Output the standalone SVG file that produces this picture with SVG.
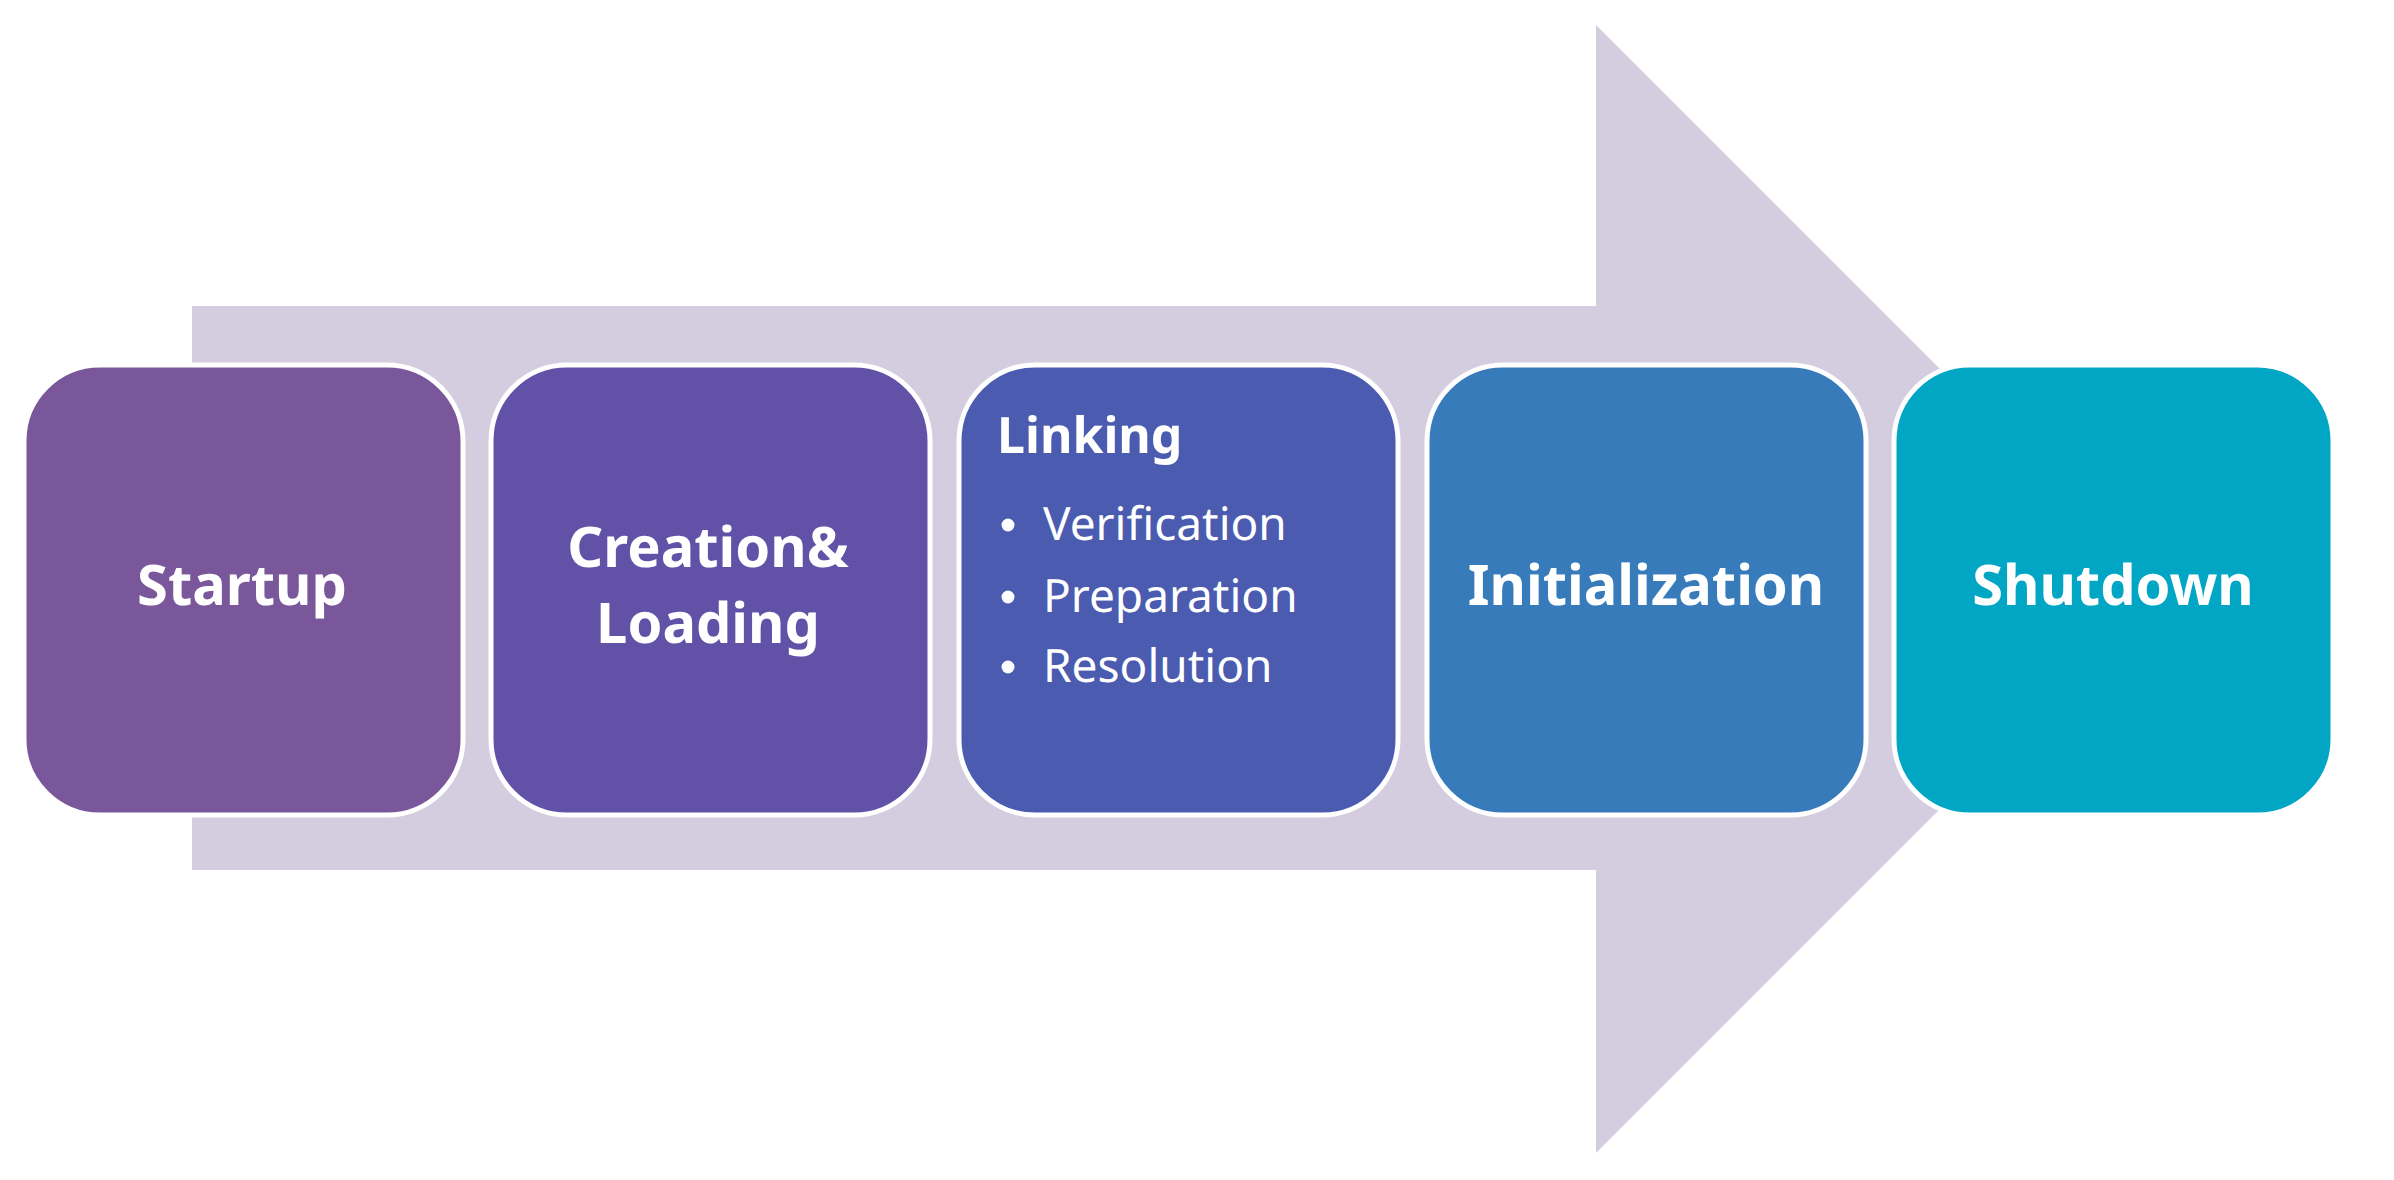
<svg xmlns="http://www.w3.org/2000/svg" width="2394" height="1180" viewBox="0 0 2394 1180">
<style>
text{text-rendering:geometricPrecision}
.box{stroke:#ffffff;stroke-width:5}
.t{font-family:"Noto Sans","Liberation Sans",sans-serif;font-weight:bold;font-size:56px;fill:#ffffff;text-anchor:middle}
.h{font-family:"Noto Sans","Liberation Sans",sans-serif;font-weight:bold;font-size:50px;fill:#ffffff}
.b{font-family:"Noto Sans","Liberation Sans",sans-serif;font-size:46px;fill:#ffffff}
</style>
<rect width="2394" height="1180" fill="#ffffff"/>
<g id="connectors">
<polygon id="big-arrow" points="192,306 1596,306 1596,25 2160,589 1596,1153 1596,870 192,870" fill="#D3CDDF"/>
</g>
<g id="startup">
<rect class="box" x="24" y="365" width="439" height="450" rx="76" fill="#7A579A"/>
<text class="t" x="242" y="605">Startup</text>
</g>
<g id="creation-loading">
<rect class="box" x="491" y="365" width="439" height="450" rx="76" fill="#6152A7"/>
<text class="t" x="708" y="567">Creation&amp;</text>
<text class="t" x="708" y="643">Loading</text>
</g>
<g id="linking">
<rect class="box" x="959" y="365" width="439" height="450" rx="76" fill="#4A5BB0"/>
<text class="h" x="997" y="453">Linking</text>
<circle cx="1008" cy="525" r="6.5" fill="#ffffff"/>
<circle cx="1008" cy="597" r="6.5" fill="#ffffff"/>
<circle cx="1008" cy="667" r="6.5" fill="#ffffff"/>
<text class="b" x="1043" y="540">Verification</text>
<text class="b" x="1043" y="612">Preparation</text>
<text class="b" x="1043" y="682">Resolution</text>
</g>
<g id="initialization">
<rect class="box" x="1427" y="365" width="439" height="450" rx="76" fill="#387BBB"/>
<text class="t" x="1646" y="605">Initialization</text>
</g>
<g id="shutdown">
<rect class="box" x="1894" y="365" width="439" height="450" rx="76" fill="#00A6C4"/>
<text class="t" x="2113" y="605">Shutdown</text>
</g>
</svg>
